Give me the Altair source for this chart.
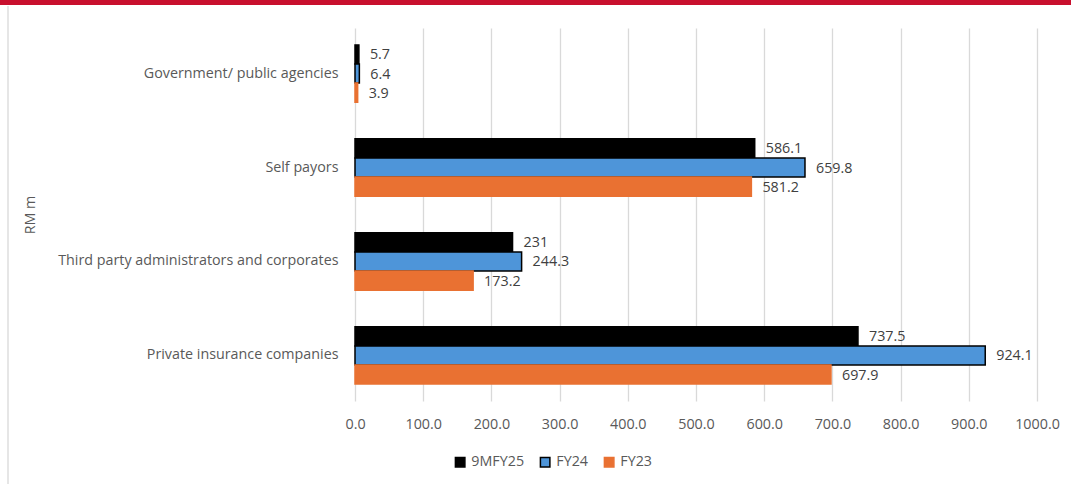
import altair as alt
import pandas as pd

categories = ["Government/ public agencies", "Self payors",
              "Third party administrators and corporates", "Private insurance companies"]
series = ["9MFY25", "FY24", "FY23"]
values_9mfy25 = [5.7, 586.1, 231.0, 737.5]
values_fy24 = [6.4, 659.8, 244.3, 924.1]
values_fy23 = [3.9, 581.2, 173.2, 697.9]
labels_9mfy25 = ["5.7", "586.1", "231", "737.5"]
labels_fy24 = ["6.4", "659.8", "244.3", "924.1"]
labels_fy23 = ["3.9", "581.2", "173.2", "697.9"]
x_ticks = [0, 100, 200, 300, 400, 500, 600, 700, 800, 900, 1000]

rows = []
for s, vals, labs in zip(series, [values_9mfy25, values_fy24, values_fy23],
                         [labels_9mfy25, labels_fy24, labels_fy23]):
    for c, v, l in zip(categories, vals, labs):
        rows.append({"category": c, "series": s, "value": v, "label": l})
df = pd.DataFrame(rows)

FONT = "Open Sans"
FS = 14.3
W, H = 682, 373
PL, PT = 355, 28

color_scale = alt.Scale(domain=series, range=["#000000", "#4E95D9", "#E97132"])
stroke_scale = alt.Scale(domain=series, range=["#000000", "#000000", "#E97132"])

base = alt.Chart(df)

bars = base.mark_bar().encode(
    y=alt.Y("category:N", sort=categories,
            scale=alt.Scale(paddingInner=0.39, paddingOuter=0.18),
            axis=alt.Axis(title="RM m", titleX=-318, titleFont=FONT, titleFontSize=FS,
                          titleFontWeight="normal", titleColor="#595959",
                          labelFont=FONT, labelFontSize=FS, labelColor="#595959",
                          labelLimit=400, labelPadding=17, ticks=False, domain=False, grid=False)),
    yOffset=alt.YOffset("series:N", sort=series, scale=alt.Scale(paddingInner=0, paddingOuter=0)),
    x=alt.X("value:Q", scale=alt.Scale(domain=[0, 1000], nice=False),
            axis=alt.Axis(title=None, values=x_ticks, format=".1f", labelFont=FONT,
                          labelFontSize=FS, labelColor="#595959", labelPadding=16,
                          labelFlush=False, labelOverlap=False,
                          ticks=False, domain=False, grid=True, gridColor="#D9D9D9",
                          gridWidth=1.3)),
    color=alt.Color("series:N", sort=series, scale=color_scale,
                    legend=alt.Legend(title=None, orient="none", direction="horizontal",
                                      legendX=98, legendY=427, symbolType="square",
                                      symbolSize=90, symbolStrokeWidth=1.5,
                                      labelFont=FONT, labelFontSize=FS, labelColor="#595959",
                                      labelOffset=4, columnPadding=12)),
    stroke=alt.Stroke("series:N", sort=series, scale=stroke_scale, legend=None),
    strokeWidth=alt.value(1.5),
)

texts = base.mark_text(align="left", baseline="middle", dx=11, dy=1, font=FONT,
                       fontSize=FS, color="#404040").encode(
    y=alt.Y("category:N", sort=categories),
    yOffset=alt.YOffset("series:N", sort=series),
    x=alt.X("value:Q"),
    text="label:N",
)

deco = pd.DataFrame({"a": [0]})
top_bar = alt.Chart(deco).mark_rect(color="#C8102E").encode(
    x=alt.value(-PL), x2=alt.value(1071 - PL), y=alt.value(-PT), y2=alt.value(-PT + 5))
left_line = alt.Chart(deco).mark_rule(color="#D9D9D9", strokeWidth=1.3).encode(
    x=alt.value(8 - PL), y=alt.value(6 - PT), y2=alt.value(484 - PT))

chart = alt.layer(bars, texts, top_bar, left_line).properties(
    width=W, height=H,
    autosize=alt.AutoSizeParams(type="none"),
    padding={"left": PL, "top": PT, "right": 1071 - PL - W, "bottom": 484 - PT - H},
    background="white",
).configure_view(stroke=None).resolve_scale(yOffset="shared")

chart.save("out.html", embed_options={"renderer": "svg", "actions": False})
